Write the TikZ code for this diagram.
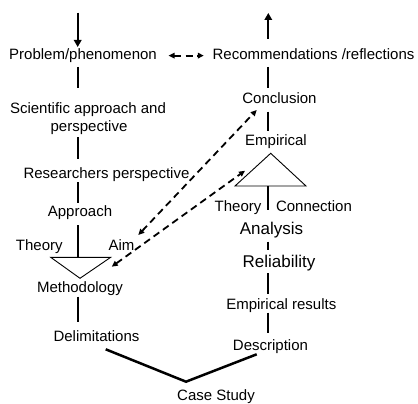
\documentclass[tikz,border=0pt]{standalone}
\usepackage{fontspec}
\setmainfont{Liberation Sans}
\usetikzlibrary{arrows.meta,calc}

\begin{document}
\begin{tikzpicture}[x=1pt,y=-1pt,
  lbl/.style={font=\fontsize{15}{18}\selectfont, inner sep=0pt, anchor=base},
  biglbl/.style={lbl, font=\fontsize{17}{20}\selectfont},
  spine/.style={line width=2.2pt},
  flow/.style={spine, -{Triangle[length=7pt,width=7.5pt]}},
  tri/.style={line width=0.9pt, line join=miter},
  vee/.style={line width=2.5pt},
  link/.style={line width=1.8pt, dash pattern=on 7pt off 4.5pt,
    {Triangle[length=6pt,width=5.5pt]}-{Triangle[length=6pt,width=5.5pt]}}]

\useasboundingbox (0,0) rectangle (418,404);

% the two vertical axes
\coordinate (L) at (77.7,0);
\coordinate (R) at (268.3,0);

% left column
\node[lbl] (prob)  at (83,59.5)    {Problem/phenomenon};
\node[lbl] (sciA)  at (88,113.5)   {Scientific approach and};
\node[lbl] (sciB)  at (89,131.5)   {perspective};
\node[lbl] (res)   at (106.5,178.3){Researchers perspective};
\node[lbl] (appr)  at (80,216.7)   {Approach};
\node[lbl] (theL)  at (39.3,250)   {Theory};
\node[lbl] (aim)   at (121.5,250)  {Aim};
\node[lbl] (meth)  at (80,292.7)   {Methodology};
\node[lbl] (delim) at (96.5,341.3) {Delimitations};

% right column
\node[lbl] (rec)    at (313.5,59.5)  {Recommendations /reflections};
\node[lbl] (concl)  at (279.5,103.3) {Conclusion};
\node[lbl] (emp)    at (276,145.7)   {Empirical};
\node[lbl] (theR)   at (238,211.5)   {Theory};
\node[lbl] (conn)   at (314,211.5)   {Connection};
\node[biglbl] (ana) at (271.5,234.3) {Analysis};
\node[biglbl] (rel) at (279,267.5)   {Reliability};
\node[lbl] (empres) at (281.3,309)   {Empirical results};
\node[lbl] (desc)   at (270.5,350)   {Description};

% bottom
\node[lbl] (case) at (216,400.3) {Case Study};

% triangles
\coordinate (lt1) at (50.7,257.3);
\coordinate (lt2) at (110.7,257.3);
\coordinate (lt3) at (80,278.3);
\draw[tri] (lt1) -- (lt2) -- (lt3) -- cycle;

\coordinate (rt1) at (270.7,153.3);
\coordinate (rt2) at (235,186);
\coordinate (rt3) at (306,186);
\draw[tri] (rt1) -- (rt2) -- (rt3) -- cycle;

% left axis
\coordinate (inL) at (77.7,12.7);
\draw[flow] (inL) -- ($(prob.base -| L)+(0,-12.5)$);
\draw[spine] ($(prob.base -| L)+(0,7.5)$) -- ($(sciA.base -| L)+(0,-25.5)$);
\draw[spine] ($(sciB.base -| L)+(0,5.5)$) -- ($(res.base -| L)+(0,-19.3)$);
\draw[spine] ($(res.base -| L)+(0,3.7)$) -- ($(appr.base -| L)+(0,-13.7)$);
\draw[spine] ($(appr.base -| L)+(0,8.3)$) -- (L |- lt1);
\draw[spine] ($(meth.base -| L)+(0,4)$) -- ($(delim.base -| L)+(0,-19.6)$);

% right axis
\coordinate (outR) at (268.3,13);
\draw[flow] ($(rec.base -| R)+(0,-20.5)$) -- (outR);
\draw[spine] ($(rec.base -| R)+(0,7.5)$) -- ($(concl.base -| R)+(0,-15.3)$);
\draw[spine] ($(concl.base -| R)+(0,8.4)$) -- ($(emp.base -| R)+(0,-15.2)$);
\draw[spine] (R |- rt2) -- ($(theR.base -| R)+(0,-1.5)$);
\draw[spine] ($(ana.base -| R)+(0,7.4)$) -- ($(rel.base -| R)+(0,-17.5)$);
\draw[spine] ($(rel.base -| R)+(0,5.8)$) -- ($(empres.base -| R)+(0,-14.7)$);
\draw[spine] ($(empres.base -| R)+(0,3.5)$) -- ($(desc.base -| R)+(0,-17.3)$);

% case study link
\coordinate (vl) at (105.7,349.3);
\coordinate (vv) at (186,381.7);
\coordinate (vr) at (256.7,354.3);
\draw[vee] (vl) -- (vv) -- (vr);

% dashed cross links
\draw[link, shorten <=11.5pt, shorten >=8.6pt] (prob.east) -- (prob.east -| rec.west);
\coordinate (aT) at (256.7,110);
\coordinate (aB) at (138.3,235);
\draw[link] (aB) -- (aT);
\coordinate (bT) at (245,170.7);
\coordinate (bB) at (111.7,266.7);
\draw[link] (bB) -- (bT);

\end{tikzpicture}
\end{document}
